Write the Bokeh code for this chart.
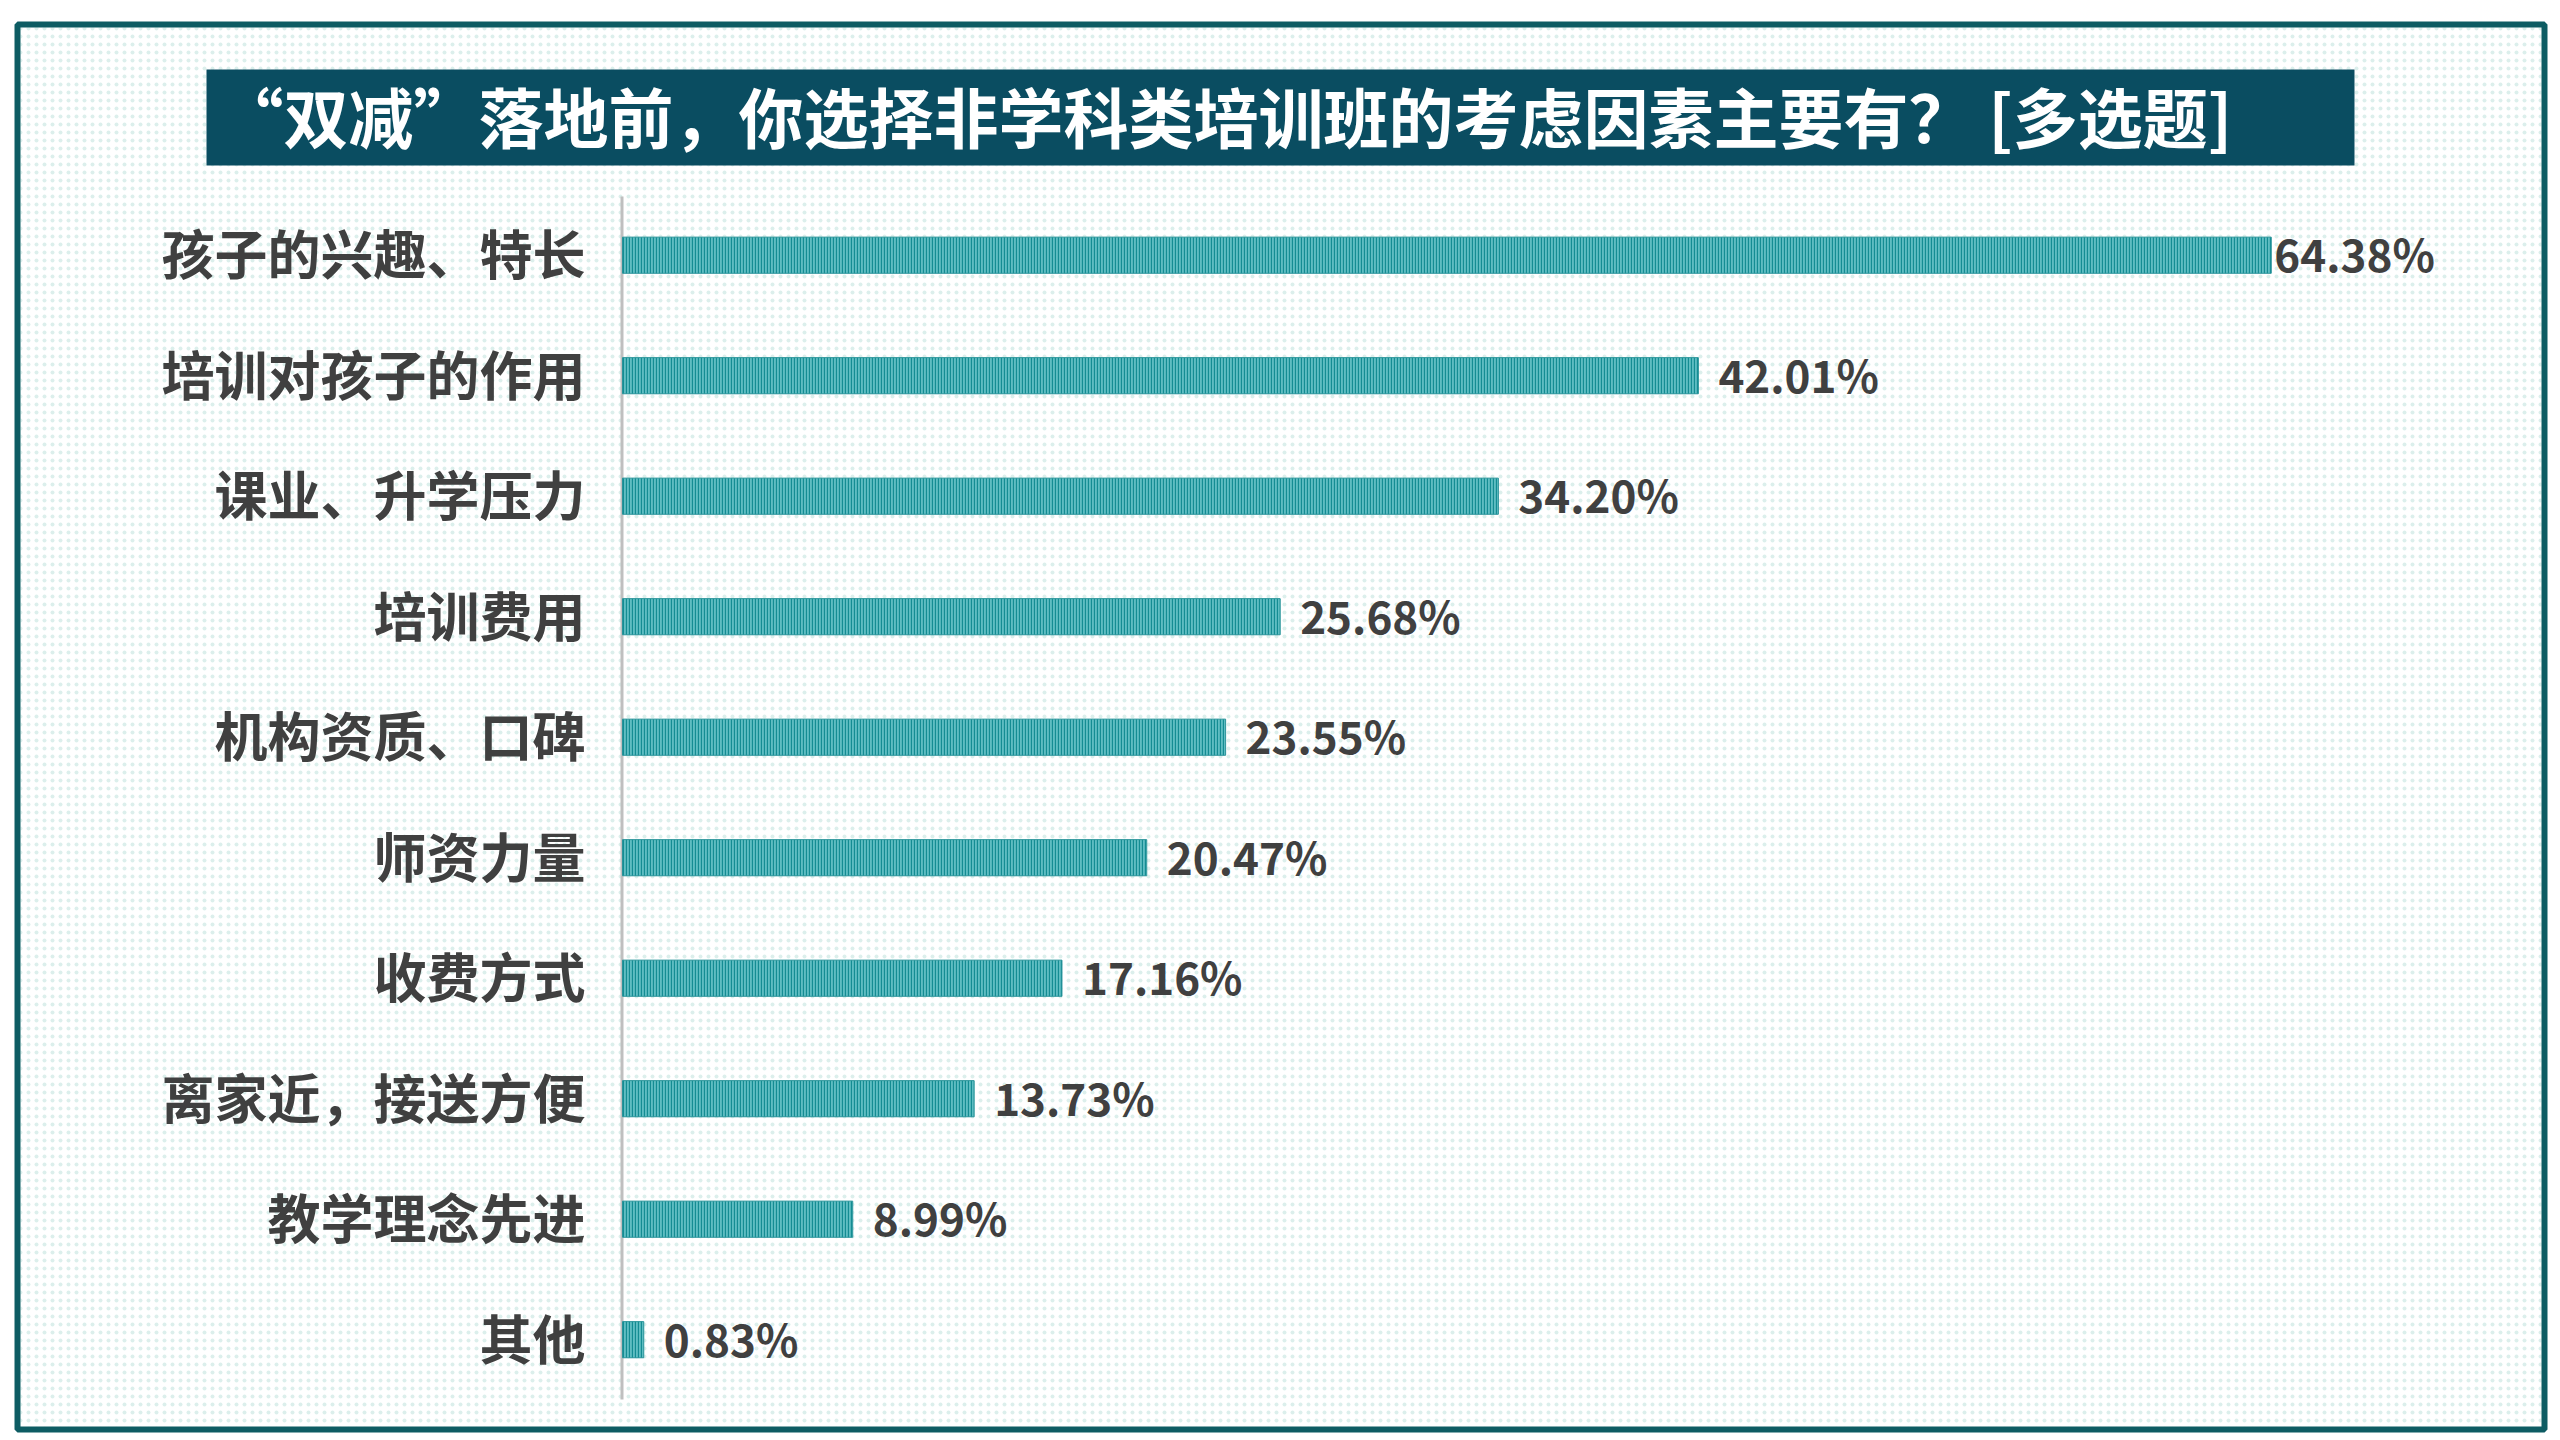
from bokeh.plotting import figure
from bokeh.models import Range1d, ColumnDataSource
from bokeh.core.properties import value
from bokeh.embed import file_html
from bokeh.resources import INLINE

# ---- data ----
categories = ["孩子的兴趣、特长", "培训对孩子的作用", "课业、升学压力", "培训费用",
              "机构资质、口碑", "师资力量", "收费方式", "离家近，接送方便",
              "教学理念先进", "其他"]
values = [64.38, 42.01, 34.20, 25.68, 23.55, 20.47, 17.16, 13.73, 8.99, 0.83]
value_labels = ["64.38%", "42.01%", "34.20%", "25.68%", "23.55%", "20.47%",
                "17.16%", "13.73%", "8.99%", "0.83%"]
title_text = "“双减”落地前，你选择非学科类培训班的考虑因素主要有？   [多选题]"

# ---- layout constants (canvas pixels) ----
W, H = 2552, 1436
PX_PER_PCT = 25.61
ZERO_X = 622
ROW0_Y = 254.7
ROW_H = 120.5

FONT = value("Noto Sans CJK SC")
TEXT_COLOR = "#404040"

p = figure(width=W, height=H, output_backend="svg", toolbar_location=None,
           x_range=Range1d(-ZERO_X / PX_PER_PCT, (W - ZERO_X) / PX_PER_PCT),
           y_range=Range1d((H - ROW0_Y) / ROW_H, -ROW0_Y / ROW_H),
           x_axis_type=None, y_axis_type=None, min_border=0,
           background_fill_color="white", border_fill_color="white")
p.outline_line_color = None
p.extra_x_ranges = {"px": Range1d(0, W)}
p.extra_y_ranges = {"px": Range1d(H, 0)}
PX = dict(x_range_name="px", y_range_name="px")

# dotted background inside frame
p.quad(left=[20], right=[2541], top=[27], bottom=[1426], fill_color="white",
       hatch_pattern="dot", hatch_color="#DCEFEC", hatch_scale=8, hatch_weight=0.8,
       line_color=None, **PX)
# outer border
p.quad(left=[17], right=[2544], top=[24], bottom=[1429], fill_color=None,
       line_color="#0D5C63", line_width=6, **PX)
# title banner
p.quad(left=[206], right=[2354], top=[69], bottom=[165], fill_color="#0A4D61",
       line_color=None, **PX)
p.text(x=[218], y=[114], text=[title_text], text_font=FONT, text_font_style="bold",
       text_font_size="65px", text_color="white", text_align="left",
       text_baseline="middle", **PX)
# axis line
p.segment(x0=[621.5], x1=[621.5], y0=[196], y1=[1399], line_color="#BFBFBF",
          line_width=3, **PX)

n = len(categories)
vmax = max(values)
src = ColumnDataSource(dict(
    y=list(range(n)), cat=categories, val=values, lbl=value_labels,
    off=[3 if v == vmax else 20 for v in values],
))

p.hbar(y="y", left=0, right="val", height=0.3, source=src,
       fill_color="#5FBDC2", hatch_pattern="vertical_line", hatch_color="#148C93",
       hatch_scale=3, hatch_weight=1.3, line_color="#2A949A", line_width=1)

p.text(x=0, y="y", text="cat", source=src, x_offset=-37, y_offset=-3,
       text_align="right", text_baseline="middle", text_font=FONT,
       text_font_style="bold", text_font_size="53px", text_color=TEXT_COLOR)

p.text(x="val", y="y", text="lbl", source=src, x_offset="off", y_offset=-2,
       text_align="left", text_baseline="middle", text_font=FONT,
       text_font_style="bold", text_font_size="44px", text_color=TEXT_COLOR)

open("out.html", "w").write(file_html(p, INLINE))
